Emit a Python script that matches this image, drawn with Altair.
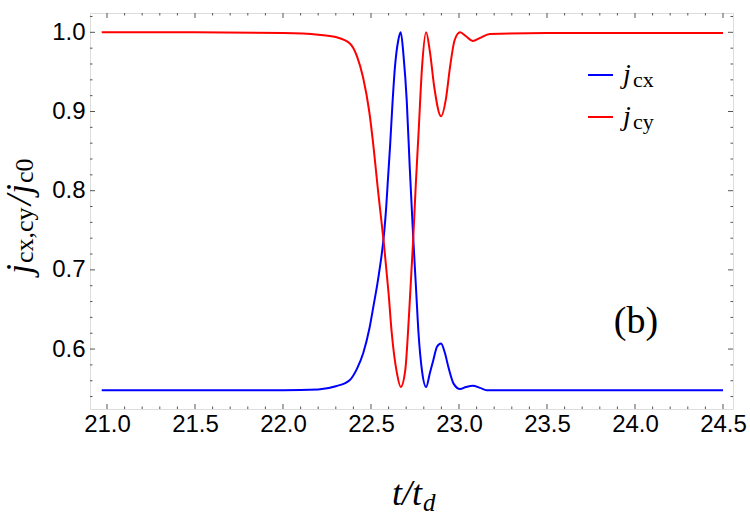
import altair as alt
import pandas as pd

# ---- data ----
t_cx = [20.97, 21.5, 22.0, 22.2, 22.3, 22.38, 22.42, 22.456, 22.49, 22.513, 22.545,
        22.576, 22.586, 22.595, 22.608, 22.622, 22.636, 22.655, 22.669, 22.685, 22.703,
        22.72, 22.74, 22.755, 22.77, 22.79, 22.813, 22.835, 22.854, 22.875, 22.898,
        22.92, 22.94, 22.97, 23.006, 23.04, 23.078, 23.12, 23.157, 23.5, 24.0, 24.5]
v_cx = [0.548, 0.548, 0.548, 0.549, 0.553, 0.561, 0.575, 0.595, 0.625, 0.653, 0.695,
        0.75, 0.778, 0.81, 0.855, 0.91, 0.956, 0.99, 1.0, 0.97, 0.914,
        0.83, 0.74, 0.68, 0.62, 0.572, 0.552, 0.57, 0.586, 0.603, 0.607,
        0.595, 0.577, 0.556, 0.5495, 0.552, 0.5537, 0.551, 0.548, 0.548, 0.548, 0.548]

t_cy = [20.97, 21.5, 22.0, 22.2, 22.3, 22.38, 22.42, 22.455, 22.49, 22.51, 22.54,
        22.576, 22.60, 22.618, 22.647, 22.669, 22.694, 22.717, 22.74, 22.755, 22.77,
        22.79, 22.813, 22.835, 22.86, 22.898, 22.925, 22.949, 22.975, 23.006, 23.04,
        23.078, 23.12, 23.176, 23.5, 24.0, 24.5]
v_cy = [1.0, 1.0, 0.999, 0.997, 0.994, 0.986, 0.97, 0.943, 0.9, 0.864, 0.80,
        0.727, 0.67, 0.62, 0.57, 0.552, 0.572, 0.647, 0.74, 0.81, 0.872,
        0.956, 1.0, 0.975, 0.93, 0.894, 0.915, 0.956, 0.99, 1.0, 0.995,
        0.989, 0.993, 0.998, 0.999, 0.999, 0.999]

x_major = [21.0, 21.5, 22.0, 22.5, 23.0, 23.5, 24.0, 24.5]
x_minor = [21.1, 21.2, 21.3, 21.4, 21.6, 21.7, 21.8, 21.9, 22.1, 22.2, 22.3, 22.4,
           22.6, 22.7, 22.8, 22.9, 23.1, 23.2, 23.3, 23.4, 23.6, 23.7, 23.8, 23.9,
           24.1, 24.2, 24.3, 24.4]
y_major = [0.6, 0.7, 0.8, 0.9, 1.0]
y_minor = [0.54, 0.56, 0.58, 0.62, 0.64, 0.66, 0.68, 0.72, 0.74, 0.76, 0.78,
           0.82, 0.84, 0.86, 0.88, 0.92, 0.94, 0.96, 0.98, 1.02]

X_DOMAIN = [20.9034, 24.5568]
Y_DOMAIN = [0.5243, 1.0244]

W, H = 643, 396
FRAME = "#555555"

df = pd.concat([
    pd.DataFrame({"t": t_cx, "v": v_cx, "s": "cx"}),
    pd.DataFrame({"t": t_cy, "v": v_cy, "s": "cy"}),
])

xs = alt.Scale(domain=X_DOMAIN, nice=False, zero=False)
ys = alt.Scale(domain=Y_DOMAIN, nice=False, zero=False)

x_axis = alt.Axis(values=x_major, format=".1f", title=None, domain=False,
                  ticks=False, grid=False, labelFontSize=24,
                  labelFont="Liberation Sans", labelColor="#000",
                  labelPadding=3, labelFlush=False)
y_axis = alt.Axis(values=y_major, format=".1f", title=None, domain=False,
                  ticks=False, grid=False, labelFontSize=24,
                  labelFont="Liberation Sans", labelColor="#000",
                  labelPadding=5, labelFlush=False)

lines = alt.Chart(df).mark_line(strokeWidth=2, interpolate="monotone").encode(
    x=alt.X("t:Q", scale=xs, axis=x_axis),
    y=alt.Y("v:Q", scale=ys, axis=y_axis),
    color=alt.Color("s:N", scale=alt.Scale(domain=["cx", "cy"], range=["#0000ff", "#ff0000"]),
                    legend=None),
    order=alt.Order("t:Q"),
    detail="s:N",
)

def xticks(vals, length, top):
    d = pd.DataFrame({"t": vals})
    if top:
        yy, yy2 = alt.value(0), alt.value(length)
    else:
        yy, yy2 = alt.value(H), alt.value(H - length)
    return alt.Chart(d).mark_rule(color=FRAME, strokeWidth=1).encode(
        x=alt.X("t:Q", scale=xs, axis=x_axis), y=yy, y2=yy2)

def yticks(vals, length, right):
    d = pd.DataFrame({"v": vals})
    if right:
        xx, xx2 = alt.value(W), alt.value(W - length)
    else:
        xx, xx2 = alt.value(0), alt.value(length)
    return alt.Chart(d).mark_rule(color=FRAME, strokeWidth=1).encode(
        y=alt.Y("v:Q", scale=ys, axis=y_axis), x=xx, x2=xx2)

ticks = [xticks(x_major, 5, False), xticks(x_major, 5, True),
         xticks(x_minor, 2.5, False), xticks(x_minor, 2.5, True),
         yticks(y_major, 5, False), yticks(y_major, 5, True),
         yticks(y_minor, 2.5, False), yticks(y_minor, 2.5, True)]

one = pd.DataFrame({"k": [0]})
OX, OY = 90, 13  # plot origin in page pixels

def txt(s, px, py, size, italic=True, angle=0, align="left", font="Liberation Serif"):
    props = dict(text=s, fontSize=size, font=font, align=align, baseline="alphabetic",
                 color="#000")
    if italic:
        props["fontStyle"] = "italic"
    if angle:
        props["angle"] = angle
    return alt.Chart(one).mark_text(**props).encode(
        x=alt.value(px - OX), y=alt.value(py - OY))

def seg(x1, x2, yy, color):
    return alt.Chart(one).mark_rule(color=color, strokeWidth=2).encode(
        x=alt.value(x1 - OX), x2=alt.value(x2 - OX), y=alt.value(yy - OY))

annots = [
    # legend
    seg(588, 613, 75, "#0000ff"), seg(588, 613, 117, "#ff0000"),
    txt("j", 623, 83, 28), txt("cx", 633, 87, 22, italic=False),
    txt("j", 623, 125, 28), txt("cy", 633, 129, 22, italic=False),
    # panel label
    txt("(b)", 636, 333, 38, italic=False, align="center"),
    # x title
    txt("t/t", 392, 505, 36), txt("d", 423, 511, 25),
    # y title (rotated)
    txt("j", 31, 274, 36, angle=270), txt("cx,cy", 33, 263, 26, italic=False, angle=270),
    txt("/", 31, 205, 36, angle=270),
    txt("j", 31, 194, 36, angle=270), txt("c0", 33, 183, 26, italic=False, angle=270),
]

chart = alt.layer(lines, *ticks, *annots).properties(
    width=W, height=H,
    padding={"left": OX, "top": OY, "right": 750 - OX - W, "bottom": 521 - OY - H},
    autosize=alt.AutoSizeParams(type="none"),
).configure_view(stroke=FRAME, strokeWidth=1.3).configure(background="white")

chart.save("out.html", embed_options={"renderer": "svg", "actions": False})
